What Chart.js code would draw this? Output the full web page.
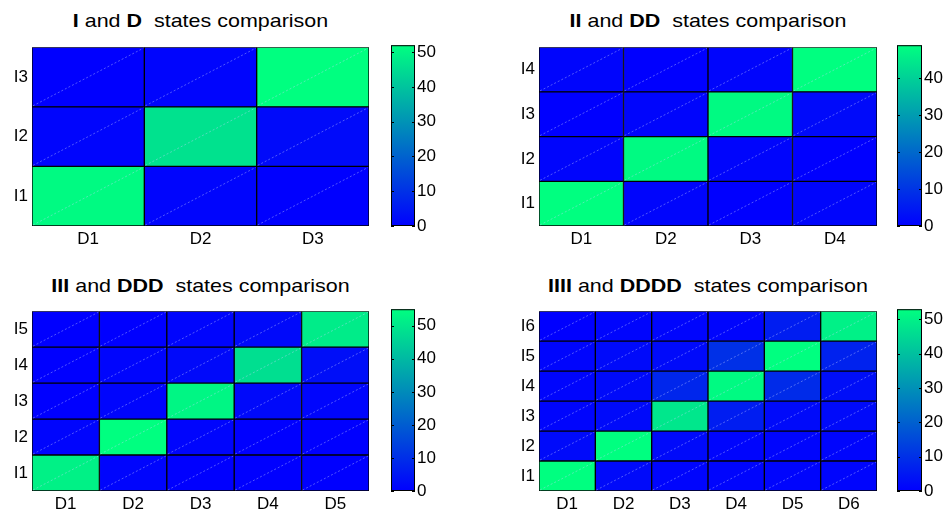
<!DOCTYPE html>
<html lang="en">
  <head>
    <meta charset="UTF-8" />
    <title>States comparison</title>
    <script src="https://cdn.jsdelivr.net/npm/chart.js@4.4.1/dist/chart.umd.min.js"></script>
    <style>
      body {
        margin: 0;
        background: #fff;
        font-family: "Liberation Sans", Arial, sans-serif;
      }
      #fig {
        position: relative;
        width: 946px;
        height: 514px;
        overflow: hidden;
      }
      .panel {
        position: absolute;
        width: 473px;
        height: 257px;
      }
      .panel canvas {
        position: absolute;
      }
      .title {
        position: absolute;
        text-align: center;
        font-size: 19px;
        line-height: 19px;
        white-space: pre;
        color: #000;
        transform: scaleX(1.13);
        transform-origin: center;
      }
    </style>
  </head>
  <body>
    <div id="fig"></div>

    <script>
      // grid labels
      const cols1 = ["D1", "D2", "D3"];
      const rows1 = ["I1", "I2", "I3"];
      const cols2 = ["D1", "D2", "D3", "D4"];
      const rows2 = ["I1", "I2", "I3", "I4"];
      const cols3 = ["D1", "D2", "D3", "D4", "D5"];
      const rows3 = ["I1", "I2", "I3", "I4", "I5"];
      const cols4 = ["D1", "D2", "D3", "D4", "D5", "D6"];
      const rows4 = ["I1", "I2", "I3", "I4", "I5", "I6"];

      // cell values, one row per I state (bottom row first)
      const vals1 = [
        [51, 1, 0],
        [1, 46, 2],
        [0, 1, 52],
      ];
      const vals2 = [
        [49, 1, 0, 1],
        [1, 48, 1, 0],
        [0, 1, 48, 2],
        [1, 0, 1, 49],
      ];
      const vals3 = [
        [52, 1, 0, 0, 0],
        [1, 55, 1, 0, 0],
        [0, 1, 53, 2, 1],
        [0, 1, 2, 48, 3],
        [0, 0, 1, 2, 51],
      ];
      const vals4 = [
        [53, 2, 1, 1, 1, 1],
        [2, 53, 2, 1, 1, 1],
        [1, 2, 48, 6, 2, 2],
        [1, 2, 8, 52, 9, 3],
        [1, 2, 2, 10, 53, 7],
        [0, 1, 1, 1, 6, 50],
      ];

      // colorbar ticks
      const cbStep = 10;

      // title parts: [bold, normal]
      const titles = [
        ["I", "D"],
        ["II", "DD"],
        ["III", "DDD"],
        ["IIII", "DDDD"],
      ];

      Chart.defaults.font.family = '"Liberation Sans", Arial, sans-serif';
      Chart.defaults.font.size = 17;
      Chart.defaults.color = "#000";

      // MATLAB "winter" colormap: blue -> spring green
      function winter(t) {
        t = Math.max(0, Math.min(1, t));
        return `rgb(0,${Math.round(255 * t)},${Math.round(255 * (1 - t / 2))})`;
      }

      // faint diagonal seam across every cell
      const seamPlugin = {
        id: "seams",
        afterDatasetsDraw(chart) {
          const ctx = chart.ctx;
          ctx.save();
          ctx.strokeStyle = "rgba(200,210,255,0.5)";
          ctx.lineWidth = 0.8;
          ctx.setLineDash([2, 2]);
          chart.data.datasets.forEach((ds, i) => {
            chart.getDatasetMeta(i).data.forEach((el) => {
              const p = el.getProps(["x", "y", "base", "width"], true);
              ctx.beginPath();
              ctx.moveTo(p.x - p.width / 2 + 1, p.base - 1);
              ctx.lineTo(p.x + p.width / 2 - 1, p.y + 1);
              ctx.stroke();
            });
          });
          ctx.restore();
        },
      };

      // colorbar frame + inward tick marks
      const cbFramePlugin = {
        id: "cbFrame",
        afterDraw(chart) {
          const ctx = chart.ctx;
          const a = chart.chartArea;
          const sc = chart.scales.y;
          ctx.save();
          ctx.strokeStyle = "#000";
          ctx.lineWidth = 1;
          ctx.strokeRect(a.left + 0.5, a.top + 0.5, a.right - a.left - 1, a.bottom - a.top - 1);
          sc.ticks.forEach((t) => {
            const py = Math.round(sc.getPixelForValue(t.value)) + 0.5;
            ctx.beginPath();
            ctx.moveTo(a.left, py);
            ctx.lineTo(a.left + 3, py);
            ctx.moveTo(a.right - 3, py);
            ctx.lineTo(a.right, py);
            ctx.stroke();
          });
          ctx.restore();
        },
      };

      function makeCanvas(parent, left, top, w, h) {
        const c = document.createElement("canvas");
        c.width = w;
        c.height = h;
        c.style.left = left + "px";
        c.style.top = top + "px";
        c.style.width = w + "px";
        c.style.height = h + "px";
        parent.appendChild(c);
        return c;
      }

      function drawPanel(box, cols, rows, vals, title) {
        const fig = document.getElementById("fig");
        const el = document.createElement("div");
        el.className = "panel";
        el.style.left = box.left + "px";
        el.style.top = box.top + "px";
        fig.appendChild(el);

        const p = box.plot;
        const vmax = Math.max(...vals.flat());

        // title
        const t = document.createElement("div");
        t.className = "title";
        t.style.left = p.l + "px";
        t.style.width = p.r - p.l + "px";
        t.style.top = box.titleTop + "px";
        t.innerHTML = `<b>${title[0]}</b> and <b>${title[1]}</b>  states comparison`;
        el.appendChild(t);

        const padT = 8;
        const padR = 8;
        const xAxisH = 30;
        const h = p.b - p.t + padT + xAxisH;

        // heatmap: one floating-bar dataset per row
        const hm = makeCanvas(el, 0, p.t - padT, p.r + padR, h);
        new Chart(hm, {
          type: "bar",
          data: {
            labels: cols,
            datasets: rows.map((r, ri) => ({
              label: r,
              data: cols.map(() => [ri, ri + 1]),
              backgroundColor: vals[ri].map((v) => winter(v / vmax)),
              borderColor: "#000",
              borderWidth: 1,
              borderSkipped: false,
              barPercentage: 1,
              categoryPercentage: 1,
              grouped: false,
            })),
          },
          options: {
            responsive: false,
            animation: false,
            events: [],
            layout: { padding: { top: padT, right: padR, left: 0, bottom: 0 } },
            plugins: { legend: { display: false }, tooltip: { enabled: false } },
            scales: {
              x: {
                grid: { display: false, drawTicks: false },
                border: { display: false },
                ticks: { padding: 3, maxRotation: 0, autoSkip: false },
                afterFit: (s) => {
                  s.height = xAxisH;
                },
              },
              y: {
                type: "linear",
                min: 0,
                max: rows.length,
                grid: { display: false, drawTicks: false },
                border: { display: false },
                afterBuildTicks: (s) => {
                  s.ticks = rows.map((r, i) => ({ value: i + 0.5 }));
                },
                ticks: {
                  padding: 4,
                  callback: (v) => rows[Math.round(v - 0.5)],
                },
                afterFit: (s) => {
                  s.width = p.l;
                },
              },
            },
          },
          plugins: [seamPlugin],
        });

        // colorbar
        const cbAxisW = 40;
        const cb = makeCanvas(el, box.cb.l, p.t - padT, box.cb.w + cbAxisW, h);
        new Chart(cb, {
          type: "bar",
          data: {
            labels: [""],
            datasets: [
              {
                data: [[0, vmax]],
                backgroundColor: (ctx) => {
                  const a = ctx.chart.chartArea;
                  if (!a) return winter(0);
                  const g = ctx.chart.ctx.createLinearGradient(0, a.bottom, 0, a.top);
                  g.addColorStop(0, winter(0));
                  g.addColorStop(1, winter(1));
                  return g;
                },
                borderWidth: 0,
                barPercentage: 1,
                categoryPercentage: 1,
              },
            ],
          },
          options: {
            responsive: false,
            animation: false,
            events: [],
            layout: { padding: { top: padT, right: 0, left: 0, bottom: xAxisH } },
            plugins: { legend: { display: false }, tooltip: { enabled: false } },
            scales: {
              x: { display: false },
              y: {
                position: "right",
                min: 0,
                max: vmax,
                grid: { display: false, drawTicks: false },
                border: { display: false },
                ticks: { stepSize: cbStep, includeBounds: false, padding: 2 },
                afterFit: (s) => {
                  s.width = cbAxisW;
                },
              },
            },
          },
          plugins: [cbFramePlugin],
        });
      }

      drawPanel(
        { left: 0, top: 0, titleTop: 11, plot: { l: 32, t: 41, r: 369, b: 226 }, cb: { l: 391, w: 24 } },
        cols1, rows1, vals1, titles[0]
      );
      drawPanel(
        { left: 473, top: 0, titleTop: 11, plot: { l: 66, t: 41, r: 404, b: 226 }, cb: { l: 424, w: 25 } },
        cols2, rows2, vals2, titles[1]
      );
      drawPanel(
        { left: 0, top: 257, titleTop: 19, plot: { l: 32, t: 48, r: 369, b: 234 }, cb: { l: 391, w: 24 } },
        cols3, rows3, vals3, titles[2]
      );
      drawPanel(
        { left: 473, top: 257, titleTop: 19, plot: { l: 66, t: 48, r: 404, b: 234 }, cb: { l: 424, w: 25 } },
        cols4, rows4, vals4, titles[3]
      );
    </script>
  </body>
</html>
